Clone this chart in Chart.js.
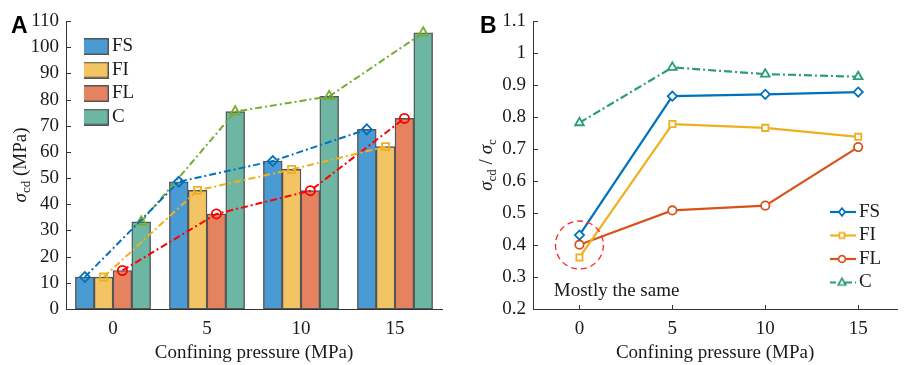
<!DOCTYPE html>
<html><head><meta charset="utf-8">
<script src="https://cdn.jsdelivr.net/npm/chart.js@4.4.0/dist/chart.umd.min.js"></script>
<style>
html,body{margin:0;padding:0;background:#fff;width:904px;height:365px;overflow:hidden}
#wrapA{position:absolute;left:0;top:0;width:450px;height:365px}
#wrapB{position:absolute;left:450px;top:0;width:454px;height:365px}
canvas{display:block}
</style></head><body>
<div id="wrapA"><canvas id="chartA" width="450" height="365"></canvas></div>
<div id="wrapB"><canvas id="chartB" width="454" height="365"></canvas></div>
<script>
// ---------------- DATA ----------------
const categories = ['0', '5', '10', '15'];
const seriesNames = ['FS', 'FI', 'FL', 'C'];
const strengthFS = [12.2, 48.6, 56.5, 68.6];
const strengthFI = [12.2, 45.3, 53.3, 62.0];
const strengthFL = [14.7, 36.3, 45.2, 72.8];
const strengthC  = [33.3, 75.4, 81.2, 105.5];
const strengthTicks = [0, 10, 20, 30, 40, 50, 60, 70, 80, 90, 100, 110];
const pressures = [0, 5, 10, 15];
const ratioFS = [0.431, 0.865, 0.871, 0.878];
const ratioFI = [0.361, 0.778, 0.766, 0.738];
const ratioFL = [0.401, 0.508, 0.523, 0.706];
const ratioC  = [0.782, 0.955, 0.934, 0.926];
const ratioTicks = [0.2, 0.3, 0.4, 0.5, 0.6, 0.7, 0.8, 0.9, 1.0, 1.1];
const xTitle = 'Confining pressure (MPa)';
const annotationText = 'Mostly the same';
const annotationPoint = {x: 0, y: 0.40};

// ---------------- STYLE ----------------
Chart.defaults.devicePixelRatio = 1;
const SERIF = '"Liberation Serif", "Times New Roman", serif';
const SANS = '"Liberation Sans", Arial, sans-serif';
const FS = 19;
const TXT = '#1a1a1a';
const AX = '#333333';
const barColors = ['#4a9ad4', '#f2c463', '#e5825f', '#6db6a3'];
const barBorder = '#555555';
const lineColorsA = ['#0072bd', '#edb120', '#ff0000', '#77ac30'];
const lineColorsB = ['#0072bd', '#edb120', '#d95319', '#2a9d78'];
const markers = ['rectRot', 'rect', 'circle', 'triangle'];
const markerRadiusA = [5, 5, 4.6, 5.5];
const markerRadiusB = [4.6, 4.4, 4.2, 5];
const catPct = 0.8;
const annotationStyle = {radius: 24, labelX: -1.38, labelY: 0.24};

function drawMarker(g, style, x, y, r) {
  g.beginPath();
  if (style === 'rectRot') {
    g.moveTo(x, y - r); g.lineTo(x + r * 0.8, y); g.lineTo(x, y + r); g.lineTo(x - r * 0.8, y); g.closePath();
  } else if (style === 'rect') {
    const s = r * Math.SQRT1_2; g.rect(x - s, y - s, 2 * s, 2 * s);
  } else if (style === 'circle') {
    g.arc(x, y, r, 0, Math.PI * 2);
  } else {
    g.moveTo(x, y - r); g.lineTo(x + r * 0.9, y + r * 0.6); g.lineTo(x - r * 0.9, y + r * 0.6); g.closePath();
  }
  g.fill(); g.stroke();
}

function swatchBox(fill) {
  const c = document.createElement('canvas'); c.width = 27; c.height = 17;
  const g = c.getContext('2d');
  g.fillStyle = fill; g.fillRect(0, 0, 27, 17);
  g.strokeStyle = barBorder; g.lineWidth = 1.5; g.strokeRect(0.75, 0.75, 25.5, 15.5);
  return c;
}
function swatchLine(color, style, dash, r) {
  const c = document.createElement('canvas'); c.width = 28; c.height = 14;
  const g = c.getContext('2d');
  g.strokeStyle = color; g.lineWidth = 2.2; g.setLineDash(dash);
  g.beginPath(); g.moveTo(0, 7); g.lineTo(28, 7); g.stroke();
  g.setLineDash([]); g.fillStyle = '#fff'; g.lineWidth = 1.7;
  drawMarker(g, style, 14, 7, r);
  return c;
}

function drawRichVertical(ctx, parts, baseX, cy) {
  ctx.save();
  ctx.fillStyle = TXT;
  let total = 0;
  parts.forEach(p => {
    ctx.font = (p.italic ? 'italic ' : '') + (p.sub ? 13 : FS) + 'px ' + SERIF;
    p.w = ctx.measureText(p.t).width; total += p.w;
  });
  ctx.translate(baseX, cy); ctx.rotate(-Math.PI / 2);
  ctx.textBaseline = 'alphabetic'; ctx.textAlign = 'left';
  let x = -total / 2;
  parts.forEach(p => {
    ctx.font = (p.italic ? 'italic ' : '') + (p.sub ? 13 : FS) + 'px ' + SERIF;
    ctx.fillText(p.t, x, p.sub ? 4 : 0);
    x += p.w;
  });
  ctx.restore();
}

const inwardTicks = {
  id: 'inwardTicks',
  afterDatasetsDraw(chart, args, opts) {
    const ctx = chart.ctx; ctx.save(); ctx.strokeStyle = AX; ctx.lineWidth = 1;
    (opts.axes || []).forEach(a => {
      const s = chart.scales[a.id];
      s.ticks.forEach(t => {
        const p = Math.round(s.getPixelForValue(t.value)) + 0.5;
        ctx.beginPath();
        if (s.isHorizontal()) { ctx.moveTo(p, s.top); ctx.lineTo(p, s.top - a.len); }
        else { ctx.moveTo(s.right, p); ctx.lineTo(s.right + a.len, p); }
        ctx.stroke();
      });
    });
    ctx.restore();
  }
};

const decorations = {
  id: 'decorations',
  afterDraw(chart, args, o) {
    const ctx = chart.ctx;
    ctx.save();
    ctx.font = 'bold 23px ' + SANS; ctx.fillStyle = '#000'; ctx.textBaseline = 'alphabetic';
    ctx.fillText(o.letter, o.letterX, 33);
    ctx.restore();
    const ca = chart.chartArea;
    drawRichVertical(ctx, o.yTitle, o.titleX, (ca.top + ca.bottom) / 2);
  }
};

const legendPlacer = {
  id: 'legendPlacer',
  afterLayout(chart, args, o) {
    const lg = chart.legend; if (!lg) return;
    lg.left = o.left; lg.top = o.top; lg.width = 140; lg.height = 140;
    lg.right = o.left + 140; lg.bottom = o.top + 140;
  }
};

const annotationPlugin = {
  id: 'annotationB',
  afterDatasetsDraw(chart) {
    const xs = chart.scales.x, ys = chart.scales.y, ctx = chart.ctx;
    const cx = xs.getPixelForValue(annotationPoint.x), cy = ys.getPixelForValue(annotationPoint.y);
    ctx.save();
    ctx.strokeStyle = '#ff2424'; ctx.lineWidth = 1.3; ctx.setLineDash([6, 4]);
    ctx.beginPath(); ctx.arc(cx, cy, annotationStyle.radius, 0, Math.PI * 2); ctx.stroke();
    ctx.setLineDash([]);
    ctx.font = FS + 'px ' + SERIF; ctx.fillStyle = TXT; ctx.textBaseline = 'alphabetic'; ctx.textAlign = 'left';
    ctx.fillText(annotationText, xs.getPixelForValue(annotationStyle.labelX), ys.getPixelForValue(annotationStyle.labelY));
    ctx.restore();
  }
};

const tickFont = {family: SERIF, size: FS};

// ---------------- PANEL A ----------------
// Bars and trend lines share a hidden linear axis aligned with the category axis
// (category i spans i-0.5 .. i+0.5); each series sits in its own slot of the group.
const strengthSeries = [strengthFS, strengthFI, strengthFL, strengthC];
const slot = catPct / seriesNames.length;
const slotOffset = k => (k - (seriesNames.length - 1) / 2) * slot;
const datasetsA = [];
seriesNames.forEach((name, k) => {
  datasetsA.push({
    type: 'bar', label: name,
    data: strengthSeries[k].map((v, i) => ({x: i + slotOffset(k), y: v})),
    backgroundColor: barColors[k], borderColor: barBorder, borderWidth: 1.4, borderSkipped: false,
    categoryPercentage: 1, barPercentage: 1, grouped: false,
    xAxisID: 'xl', yAxisID: 'y', order: 2,
    swatch: swatchBox(barColors[k])
  });
});
seriesNames.forEach((name, k) => {
  datasetsA.push({
    type: 'line', label: name + ' trend',
    data: strengthSeries[k].map((v, i) => ({x: i + slotOffset(k), y: v})),
    borderColor: lineColorsA[k], backgroundColor: 'rgba(0,0,0,0)', borderWidth: 2,
    borderDash: [7, 3, 2, 3], tension: 0,
    pointStyle: markers[k], pointRadius: markerRadiusA[k], pointBorderWidth: 1.8,
    pointBorderColor: lineColorsA[k], pointBackgroundColor: 'rgba(0,0,0,0)',
    xAxisID: 'xl', yAxisID: 'y', order: 1
  });
});

new Chart(document.getElementById('chartA'), {
  data: {labels: categories, datasets: datasetsA},
  options: {
    responsive: false, animation: false, devicePixelRatio: 1,
    layout: {padding: {left: 0, right: 8, top: 21, bottom: 0}},
    scales: {
      x: {
        type: 'category', labels: categories, offset: true, position: 'bottom',
        grid: {display: false, drawTicks: false},
        border: {display: true, color: AX, width: 1},
        ticks: {font: tickFont, color: TXT, padding: 9},
        title: {display: true, text: xTitle, font: tickFont, color: TXT, padding: {top: 0, bottom: 1}},
        afterFit: s => { s.height = 56; }
      },
      xl: {type: 'linear', display: false, offset: false, position: 'bottom',
        min: -0.5, max: categories.length - 0.5},
      y: {
        type: 'linear', min: 0, max: 110,
        afterBuildTicks: s => { s.ticks = strengthTicks.map(v => ({value: v})); },
        grid: {display: false, drawTicks: false},
        border: {display: true, color: AX, width: 1},
        ticks: {font: tickFont, color: TXT, padding: 7},
        afterFit: s => { s.width = 66; }
      }
    },
    plugins: {
      legend: {
        position: 'chartArea', align: 'start',
        labels: {
          font: {family: SERIF, size: FS}, color: TXT, padding: 4.5, textAlign: 'left',
          usePointStyle: true, pointStyleWidth: 14, boxHeight: FS,
          filter: item => item.datasetIndex < seriesNames.length,
          generateLabels: chart => chart.data.datasets.map((d, i) => ({
            text: d.label, datasetIndex: i, pointStyle: d.swatch, fillStyle: d.backgroundColor,
            strokeStyle: d.borderColor, lineWidth: 0, hidden: false, fontColor: TXT
          }))
        }
      },
      legendPlacer: {left: 84, top: 32.5},
      tooltip: {enabled: false},
      inwardTicks: {axes: [{id: 'y', len: 5}]},
      decorations: {letter: 'A', letterX: 11, titleX: 26,
        yTitle: [{t: 'σ', italic: true}, {t: 'cd', sub: true}, {t: ' (MPa)'}]}
    }
  },
  plugins: [inwardTicks, decorations, legendPlacer]
});

// ---------------- PANEL B ----------------
const ratioSeries = [ratioFS, ratioFI, ratioFL, ratioC];
const dashB = [[], [], [], [8, 3, 2, 3]];
const datasetsB = seriesNames.map((name, k) => ({
  type: 'line', label: name,
  data: pressures.map((p, i) => ({x: p, y: ratioSeries[k][i]})),
  borderColor: lineColorsB[k], backgroundColor: '#ffffff', borderWidth: 2.2,
  borderDash: dashB[k], tension: 0,
  pointStyle: markers[k], pointRadius: markerRadiusB[k], pointBorderWidth: 1.8,
  pointBorderColor: lineColorsB[k], pointBackgroundColor: '#ffffff',
  swatch: swatchLine(lineColorsB[k], markers[k], dashB[k], markerRadiusB[k] - 0.8)
}));

new Chart(document.getElementById('chartB'), {
  type: 'line',
  data: {datasets: datasetsB},
  options: {
    responsive: false, animation: false, devicePixelRatio: 1,
    layout: {padding: {left: 0, right: 1, top: 21, bottom: 0}},
    scales: {
      x: {
        type: 'linear', min: -2.5, max: 17.1, position: 'bottom',
        afterBuildTicks: s => { s.ticks = pressures.map(v => ({value: v})); },
        grid: {display: false, drawTicks: false},
        border: {display: true, color: AX, width: 1},
        ticks: {font: tickFont, color: TXT, padding: 9, callback: v => String(v)},
        title: {display: true, text: xTitle, font: tickFont, color: TXT, padding: {top: 0, bottom: 1}},
        afterFit: s => { s.height = 56; }
      },
      y: {
        type: 'linear', min: 0.2, max: 1.1,
        afterBuildTicks: s => { s.ticks = ratioTicks.map(v => ({value: v})); },
        grid: {display: false, drawTicks: false},
        border: {display: true, color: AX, width: 1},
        ticks: {font: tickFont, color: TXT, padding: 7, callback: v => String(Number(v.toFixed(1)))},
        afterFit: s => { s.width = 83; }
      }
    },
    plugins: {
      legend: {
        position: 'chartArea', align: 'start',
        labels: {
          font: {family: SERIF, size: FS}, color: TXT, padding: 4.5, textAlign: 'left',
          usePointStyle: true, pointStyleWidth: 15, boxHeight: FS,
          generateLabels: chart => chart.data.datasets.map((d, i) => ({
            text: d.label, datasetIndex: i, pointStyle: d.swatch, fillStyle: d.borderColor,
            strokeStyle: d.borderColor, lineWidth: 0, hidden: false, fontColor: TXT
          }))
        }
      },
      legendPlacer: {left: 380, top: 198},
      tooltip: {enabled: false},
      inwardTicks: {axes: [{id: 'y', len: 5}, {id: 'x', len: 4}]},
      decorations: {letter: 'B', letterX: 30, titleX: 42,
        yTitle: [{t: 'σ', italic: true}, {t: 'cd', sub: true}, {t: ' / '}, {t: 'σ', italic: true}, {t: 'c', sub: true}]}
    }
  },
  plugins: [inwardTicks, decorations, legendPlacer, annotationPlugin]
});
</script>
</body></html>
